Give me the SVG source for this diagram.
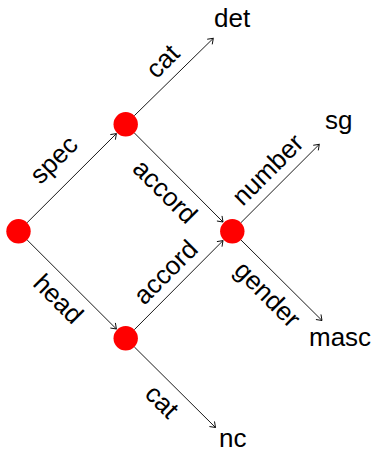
<svg xmlns="http://www.w3.org/2000/svg" width="373" height="453" viewBox="0 0 373 453">
<style>
.e{stroke:#000;stroke-width:0.9;fill:none;marker-end:url(#ah)}
.n{fill:#ff0000}
text{font-family:"Liberation Sans",Arial,Helvetica,sans-serif;font-size:26px;fill:#000}
.l{text-anchor:middle}
</style>
<defs>
<marker id="ah" markerUnits="userSpaceOnUse" markerWidth="12" markerHeight="12" viewBox="-6 -6 12 12" refX="0" refY="0" orient="auto" overflow="visible">
<path d="M-5,-3.6 L0,0 L-5,3.6" fill="none" stroke="#000" stroke-width="0.9"/>
</marker>
</defs>
<g id="connectors">
<line class="e" x1="27.1" y1="222.7" x2="116.4" y2="133.6"/>
<line class="e" x1="27.1" y1="239.9" x2="116.4" y2="329.0"/>
<line class="e" x1="134.3" y1="132.9" x2="223" y2="222"/>
<line class="e" x1="134.3" y1="329.7" x2="223" y2="240.6"/>
<line class="e" x1="134.3" y1="115.7" x2="213.3" y2="38.3"/>
<line class="e" x1="240.9" y1="222.7" x2="319.3" y2="144.3"/>
<line class="e" x1="240.9" y1="239.9" x2="322" y2="320.5"/>
<line class="e" x1="134.3" y1="346.9" x2="215.5" y2="427.5"/>
<text class="l" transform="translate(60.0,165.8) rotate(-45)">spec</text>
<text class="l" transform="translate(52.1,305.1) rotate(45)">head</text>
<text class="l" transform="translate(168.8,67.4) rotate(-45)">cat</text>
<text class="l" transform="translate(158.9,197.7) rotate(45)">accord</text>
<text class="l" transform="translate(171.8,278.4) rotate(-45)">accord</text>
<text class="l" transform="translate(274,175.8) rotate(-45)">number</text>
<text class="l" transform="translate(261.3,300.5) rotate(45)">gender</text>
<text class="l" transform="translate(155.8,407.6) rotate(45)">cat</text>
</g>
<g id="root"><circle class="n" cx="18.5" cy="231.3" r="12.2"/></g>
<g id="spec-node"><circle class="n" cx="125.7" cy="124.3" r="12.2"/></g>
<g id="head-node"><circle class="n" cx="125.7" cy="338.3" r="12.2"/></g>
<g id="agr-node"><circle class="n" cx="232.3" cy="231.3" r="12.2"/></g>
<g id="det"><text x="214" y="26.7">det</text></g>
<g id="sg"><text x="325" y="128.5">sg</text></g>
<g id="masc"><text x="309" y="345.7">masc</text></g>
<g id="nc"><text x="219" y="447">nc</text></g>
</svg>
